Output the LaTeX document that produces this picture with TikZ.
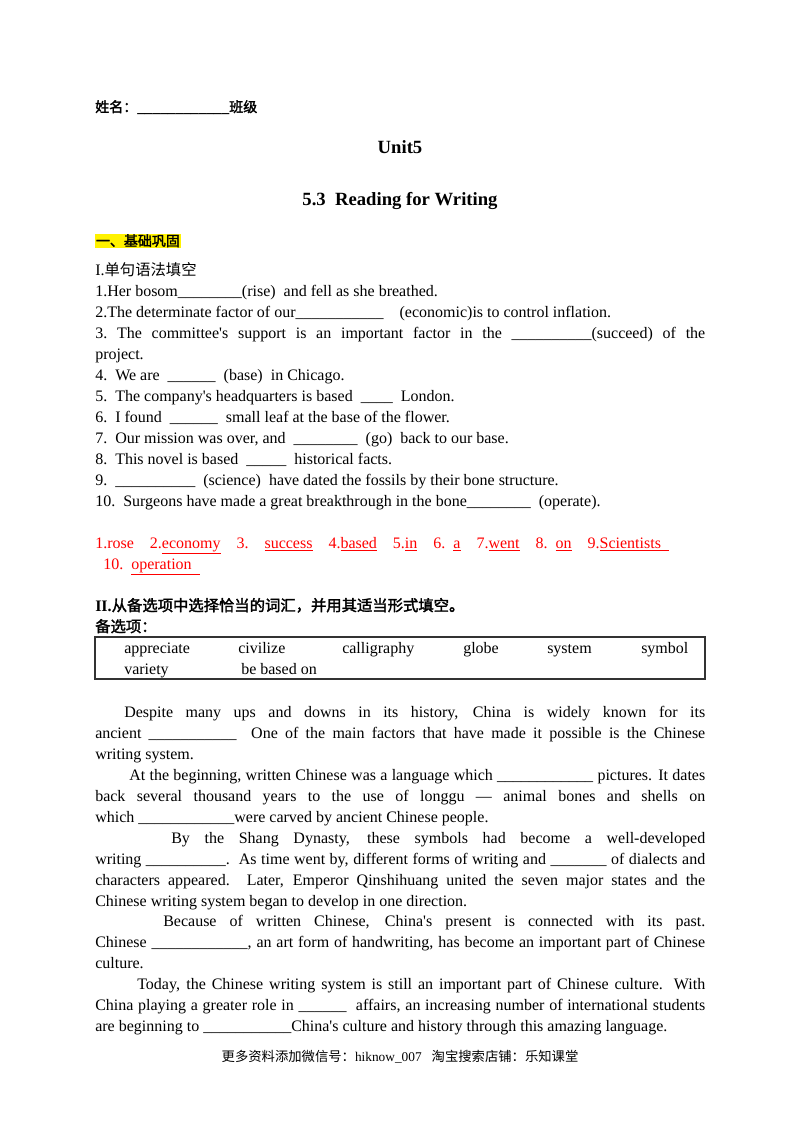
\documentclass[tikz,border=0pt]{standalone}
\usepackage{fontspec}
\setmainfont{Liberation Serif}[Ligatures=TeXOff]
\newfontfamily\cjk{Noto Sans CJK SC}
\newfontfamily\cjkb[AutoFakeBold=2]{Noto Sans CJK SC}
\newcommand\q{'}
\newcounter{ln}
\newcommand\tl[3]{\stepcounter{ln}\node[txt] (n\theln) at (#1,#2+5) {#3};}
\newcommand\jl[3]{\stepcounter{ln}\node[txt] (n\theln) at (#1,#2+5) {\makebox[\dimexpr(705pt-#1pt)*3/4\relax][s]{#3}};}
\begin{document}
\begin{tikzpicture}[x=0.75pt,y=-0.75pt,
  txt/.style={anchor=base west,inner sep=0pt,font=\fontsize{12}{14}\selectfont},
  ans/.style={txt,text=red},
  box/.style={draw=black!80,line width=0.8pt}]
\useasboundingbox[fill=white] (0,0) rectangle (800,1132);
\tl{95}{107}{\cjkb\bfseries\fontsize{10.5}{12}\selectfont 姓名：\rmfamily\bfseries\fontsize{11.5}{13}\selectfont\_\_\_\_\_\_\_\_\_\_\_\_\cjkb\fontsize{10.5}{12}\selectfont 班级}
\node[inner sep=0pt,anchor=base,font=\bfseries\fontsize{14}{16}\selectfont] (unit) at (400,153) {Unit5};
\node[inner sep=0pt,anchor=base,font=\bfseries\fontsize{14}{16}\selectfont] (title) at (400,205) {5.3\ \ Reading for Writing};
\node[txt,fill=yellow,inner sep=0.5pt,font=\cjkb\bfseries\fontsize{10.5}{12}\selectfont] (sec1) at (95,246) {一、基础巩固};
\tl{95}{270}{I.\cjk\fontsize{11.5}{13}\selectfont 单句语法填空}
\tl{95}{291}{1.Her bosom\_\_\_\_\_\_\_\_(rise)\ \ and fell as she breathed.}
\tl{95}{312}{2.The determinate factor of our\_\_\_\_\_\_\_\_\_\_\_\ \ \ \ (economic)is to control inflation.}
\jl{95}{333}{3.\ The committee\q s support is an important factor in the \_\_\_\_\_\_\_\_\_\_(succeed) of the}
\tl{95}{354}{project.}
\tl{95}{375}{4.\ \ We are \ \_\_\_\_\_\_\ \ (base)\ \ in Chicago.}
\tl{95}{396}{5.\ \ The company\q s headquarters is based \ \_\_\_\_\ \ London.}
\tl{95}{417}{6.\ \ I found \ \_\_\_\_\_\_\ \ small leaf at the base of the flower.}
\tl{95}{438}{7.\ \ Our mission was over, and \ \_\_\_\_\_\_\_\_\ \ (go)\ \ back to our base.}
\tl{95}{459}{8.\ \ This novel is based \ \_\_\_\_\_\ \ historical facts.}
\tl{95}{480}{9.\ \ \_\_\_\_\_\_\_\_\_\_\ \ (science)\ \ have dated the fossils by their bone structure.}
\tl{95}{501}{10.\ \ Surgeons have made a great breakthrough in the bone\_\_\_\_\_\_\_\_\ \ (operate).}
\node[ans] (a1) at (95,548) {1.rose\ \ \ \ 2.\underline{economy}\ \ \ \ 3.\ \ \ \ \underline{success}\ \ \ \ 4.\underline{based}\ \ \ \ 5.\underline{in}\ \ \ \ 6.\ \ \underline{a}\ \ \ \ 7.\underline{went}\ \ \ \ 8.\ \ \underline{on}\ \ \ \ 9.\underline{Scientists\ \ }};
\node[ans] (a2) at (103,569) {10.\ \ \underline{operation\ \ }};
\tl{95}{606}{\bfseries II.\cjkb\fontsize{11.5}{13}\selectfont 从备选项中选择恰当的词汇，并用其适当形式填空。}
\tl{95}{627}{\cjkb\bfseries\fontsize{11.5}{13}\selectfont 备选项：}
\draw[box] (95,637) rectangle (705,679);
\tl{124}{648}{appreciate}\tl{238}{648}{civilize}\tl{342}{648}{calligraphy}\tl{463}{648}{globe}\tl{547}{648}{system}\tl{641}{648}{symbol}
\tl{124}{669}{variety}\tl{241}{669}{be based on}
\jl{124}{712}{Despite many ups and downs in its history, China is widely known for its}
\jl{95}{733}{ancient \_\_\_\_\_\_\_\_\_\_\_\ \ One of the main factors that have made it possible is the Chinese}
\tl{95}{754}{writing system.}
\jl{129}{775}{At the beginning, written Chinese was a language which \_\_\_\_\_\_\_\_\_\_\_\_ pictures. It dates}
\jl{95}{796}{back several thousand years to the use of longgu — animal bones and shells on}
\tl{95}{817}{which \_\_\_\_\_\_\_\_\_\_\_\_were carved by ancient Chinese people.}
\jl{171}{838}{By the Shang Dynasty, these symbols had become a well-developed}
\jl{95}{859}{writing \_\_\_\_\_\_\_\_\_\_.\ \ As time went by, different forms of writing and \_\_\_\_\_\_\_ of dialects and}
\jl{95}{880}{characters appeared. Later, Emperor Qinshihuang united the seven major states and the}
\tl{95}{901}{Chinese writing system began to develop in one direction.}
\jl{163}{921}{Because of written Chinese, China\q s present is connected with its past.}
\jl{95}{942}{Chinese \_\_\_\_\_\_\_\_\_\_\_\_, an art form of handwriting, has become an important part of Chinese}
\tl{95}{963}{culture.}
\jl{137}{984}{Today, the Chinese writing system is still an important part of Chinese culture. With}
\jl{95}{1005}{China playing a greater role in \_\_\_\_\_\_\ \ affairs, an increasing number of international students}
\tl{95}{1026}{are beginning to \_\_\_\_\_\_\_\_\_\_\_China\q s culture and history through this amazing language.}
\node[inner sep=0pt,font=\cjk\fontsize{10}{12}\selectfont] (foot) at (400,1057) {更多资料添加微信号：\rmfamily hiknow\_007\ \ \ \cjk 淘宝搜索店铺：乐知课堂};
\end{tikzpicture}
\end{document}
